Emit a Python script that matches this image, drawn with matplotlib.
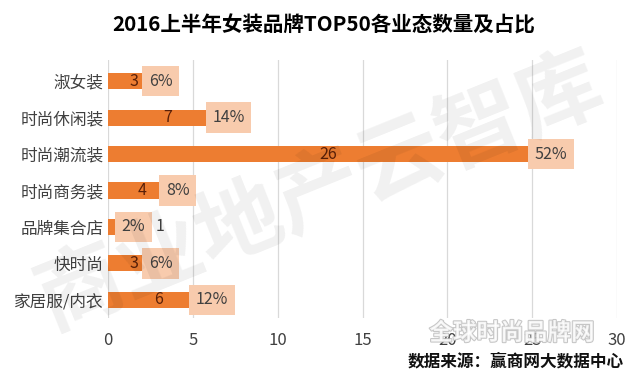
import matplotlib
matplotlib.use("Agg")
import matplotlib.pyplot as plt
import matplotlib.patheffects as pe

plt.rcParams['font.family'] = ['Noto Sans CJK SC', 'DejaVu Sans']

categories = ["淑女装", "时尚休闲装", "时尚潮流装", "时尚商务装", "品牌集合店", "快时尚", "家居服/内衣"]
counts = [3, 7, 26, 4, 1, 3, 6]
percents = ["6%", "14%", "52%", "8%", "2%", "6%", "12%"]
xticks = [0, 5, 10, 15, 20, 25, 30]

fig = plt.figure(figsize=(6.4, 3.85), dpi=100)
ax = fig.add_axes([0.169, 0.174, 0.795, 0.670])

y = list(range(len(categories)))
ax.barh(y, counts, height=0.44, color="#ED7D31", zorder=2)

for yi, v, p in zip(y, counts, percents):
    if v >= 2:
        ax.text(v / 2, yi, str(v), ha="center", va="center", fontsize=11.5,
                color="#5a2008", zorder=4)
        px = v + 0.1
    else:
        px = 1.5
        ax.text(3.05, yi, str(v), ha="center", va="center", fontsize=11.5,
                color="#404040", zorder=4)
    ax.text(px, yi, p, ha="center", va="center", fontsize=11.5, color="#404040",
            zorder=4,
            bbox=dict(boxstyle="square,pad=0.42", fc="#F8CBAD", ec="none"))

ax.set_xlim(0, 30)
ax.set_ylim(6.5, -0.58)
ax.set_xticks(xticks)
ax.set_xticklabels([str(t) for t in xticks])
ax.set_yticks(y)
ax.set_yticklabels(categories)
ax.tick_params(axis="both", length=0, labelsize=12, colors="#404040")
ax.tick_params(axis="x", pad=10)
ax.tick_params(axis="y", pad=3.5)
ax.grid(axis="x", color="#d9d9d9", linewidth=0.9, zorder=0)
for s in ax.spines.values():
    s.set_visible(False)

fig.text(0.505, 0.935, "2016上半年女装品牌TOP50各业态数量及占比", ha="center", va="center",
         fontsize=14.8, fontweight="bold", color="#000000")

# watermarks
fig.text(0.5, 0.5, "商业地产云智库", ha="center", va="center", fontsize=62,
         rotation=22, color="#000000", alpha=0.06, fontweight="bold", zorder=0)
fig.text(0.8, 0.135, "全球时尚品牌网", ha="center", va="center", fontsize=17,
         color="#ffffff", fontweight="bold", zorder=5, alpha=0.8,
         path_effects=[pe.withStroke(linewidth=1.5, foreground="#b8b8b8")])
fig.text(0.805, 0.06, "数据来源：赢商网大数据中心", ha="center", va="center", fontsize=12,
         fontweight="bold", color="#111111", zorder=6)

fig.savefig("out.png", dpi=100)
